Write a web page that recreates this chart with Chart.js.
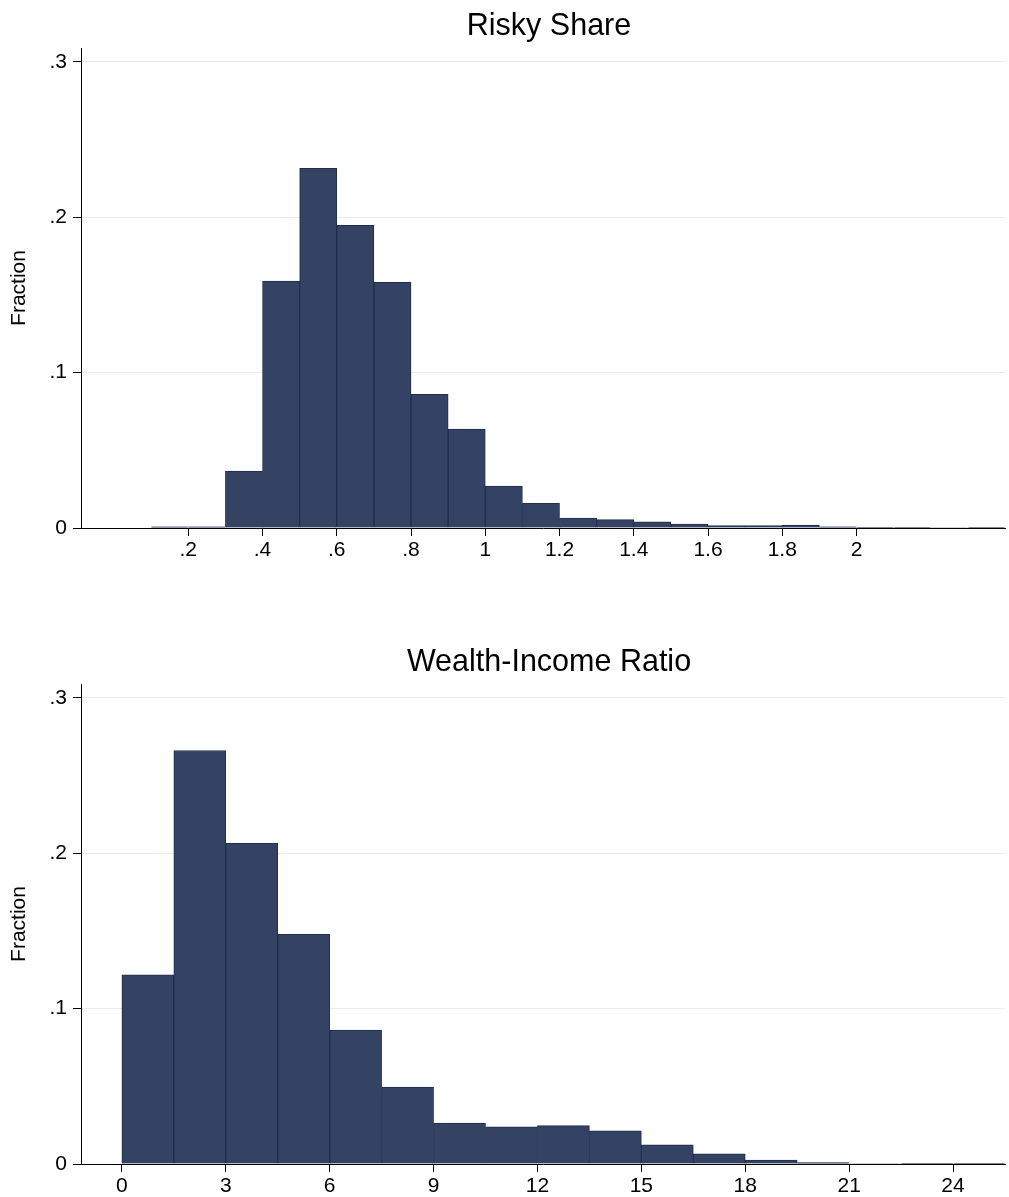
<!DOCTYPE html>
<html lang="en">
<head>
<meta charset="UTF-8">
<title>Risky Share / Wealth-Income Ratio</title>
<script src="https://cdn.jsdelivr.net/npm/chart.js@4"></script>
<style>
  html, body { margin: 0; padding: 0; background: #fff; }
  body { width: 1009px; height: 1197px; position: relative; overflow: hidden; }
  canvas { position: absolute; left: 0; }
  #riskyChart { top: 0; }
  #wealthChart { top: 600px; }
</style>
</head>
<body>
<canvas id="riskyChart" width="1009" height="600"></canvas>
<canvas id="wealthChart" width="1009" height="597"></canvas>
<script>
// Risky share histogram (bin width 0.1)
const riskyBinStart = [0.1, 0.2, 0.3, 0.4, 0.5, 0.6, 0.7, 0.8, 0.9, 1.0, 1.1, 1.2,
  1.3, 1.4, 1.5, 1.6, 1.7, 1.8, 1.9, 2.0, 2.1, 2.2, 2.3];
const riskyFraction = [0.0008, 0.0008, 0.0367, 0.1589, 0.2316, 0.1949, 0.1582, 0.0861,
  0.0636, 0.0270, 0.0159, 0.0064, 0.0054, 0.0039, 0.0026, 0.0015, 0.0015, 0.0019,
  0.0008, 0.0005, 0.0004, 0.0003, 0.0002];
const riskyBinWidth = 0.1;
const riskyXTicks = [0.2, 0.4, 0.6, 0.8, 1, 1.2, 1.4, 1.6, 1.8, 2];

// Wealth-income ratio histogram (bin width 1.5)
const wealthBinStart = [0, 1.5, 3, 4.5, 6, 7.5, 9, 10.5, 12, 13.5, 15, 16.5, 18, 19.5, 21, 22.5, 24];
const wealthFraction = [0.1217, 0.2662, 0.2064, 0.1479, 0.0862, 0.0495, 0.0264, 0.0240,
  0.0247, 0.0214, 0.0124, 0.0066, 0.0026, 0.0009, 0.0003, 0.0002, 0.0002];
const wealthBinWidth = 1.5;
const wealthXTicks = [0, 3, 6, 9, 12, 15, 18, 21, 24];

const yTicks = [0, 0.1, 0.2, 0.3];

const FONT = "'Liberation Sans', Arial, Helvetica, sans-serif";
const BAR_FILL = '#344263';
const BAR_EDGE = '#222d4c';

// Stata style labels: drop the leading zero (.2, .4 ...)
const stataLabel = v => (v === 0 ? '0' : String(+v.toFixed(4)).replace(/^0\./, '.'));

// shift the title so it is centred a little right of the plot region
const titleShift = {
  id: 'titleShift',
  afterLayout(chart) {
    const t = chart.titleBlock;
    if (!t) return;
    t.left = chart.chartArea.left;
    t.right = chart.chartArea.right + 12;
  }
};

function makeHistogram(canvasId, opts) {
  const data = opts.starts.map((s, i) => ({ x: s + opts.width / 2, y: opts.values[i] }));
  return new Chart(document.getElementById(canvasId), {
    type: 'bar',
    data: {
      datasets: [{
        data,
        backgroundColor: BAR_FILL,
        borderColor: BAR_EDGE,
        borderWidth: 1,
        barPercentage: 1,
        categoryPercentage: 1
      }]
    },
    options: {
      responsive: false,
      animation: false,
      layout: { padding: { left: 0, right: 4, top: 0, bottom: 0 } },
      plugins: {
        legend: { display: false },
        tooltip: { enabled: false },
        title: {
          display: true,
          text: opts.title,
          color: '#000',
          font: { family: FONT, size: 30.5, weight: 'normal', lineHeight: 1.2 },
          padding: opts.titlePadding
        }
      },
      scales: {
        x: {
          type: 'linear',
          min: opts.xMin,
          max: opts.xMax,
          offset: false,
          grid: {
            display: true, offset: false, drawOnChartArea: false,
            drawTicks: true, tickLength: 8, tickColor: '#000'
          },
          border: { display: true, color: '#000', width: 1 },
          afterBuildTicks: s => { s.ticks = opts.xTicks.map(v => ({ value: v })); },
          afterFit: s => { s.height = opts.xAxisHeight; },
          ticks: {
            autoSkip: false,
            maxRotation: 0,
            padding: 2,
            color: '#000',
            font: { family: FONT, size: 21 },
            callback: v => stataLabel(v)
          }
        },
        y: {
          min: 0,
          max: 0.309,
          grid: { color: '#ececec', lineWidth: 1, tickLength: 8, tickColor: '#000' },
          border: { display: true, color: '#000', width: 1 },
          afterBuildTicks: s => { s.ticks = yTicks.map(v => ({ value: v })); },
          afterFit: s => { s.width = 81; },
          title: {
            display: true,
            text: 'Fraction',
            color: '#000',
            font: { family: FONT, size: 21 },
            padding: { top: 7, bottom: 0 }
          },
          ticks: {
            padding: 6,
            color: '#000',
            font: { family: FONT, size: 21 },
            callback: v => stataLabel(v)
          }
        }
      }
    },
    plugins: [titleShift]
  });
}

makeHistogram('riskyChart', {
  title: 'Risky Share',
  starts: riskyBinStart,
  values: riskyFraction,
  width: riskyBinWidth,
  xTicks: riskyXTicks,
  xMin: -0.089,
  xMax: 2.4,
  titlePadding: { top: 8.4, bottom: 3 },
  xAxisHeight: 72
});

makeHistogram('wealthChart', {
  title: 'Wealth-Income Ratio',
  starts: wealthBinStart,
  values: wealthFraction,
  width: wealthBinWidth,
  xTicks: wealthXTicks,
  xMin: -1.18,
  xMax: 25.5,
  titlePadding: { top: 44.2, bottom: 3.2 },
  xAxisHeight: 33
});
</script>
</body>
</html>
